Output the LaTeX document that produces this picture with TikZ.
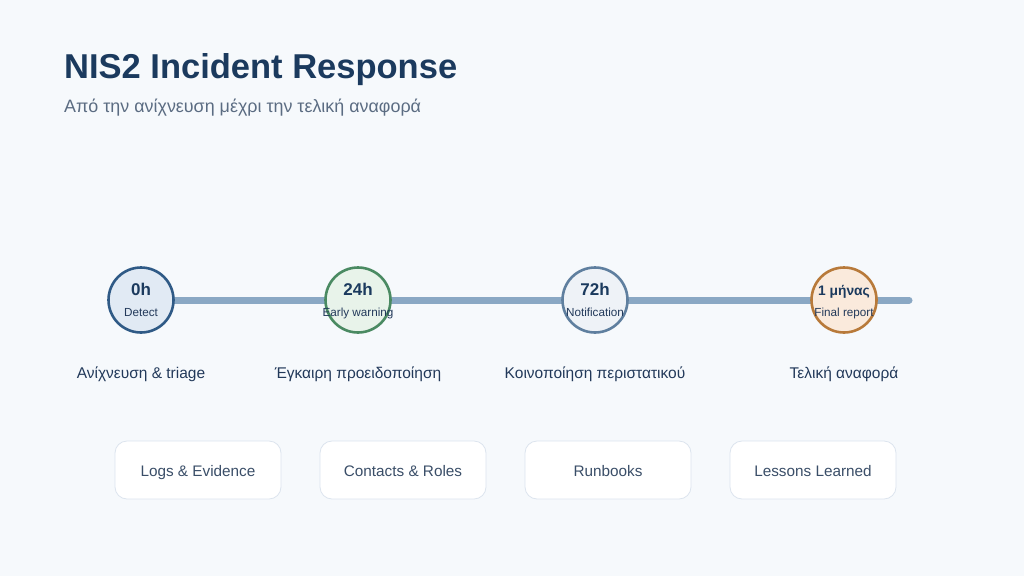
\documentclass[tikz,border=0pt]{standalone}
\usepackage{fontspec}
\setmainfont{Liberation Sans}
\begin{document}
\begin{tikzpicture}[x=1pt,y=-1pt,
  milestone/.style={circle,minimum size=65pt,inner sep=0pt,line width=2.6pt},
  tlabel/.style={font=\fontsize{15.5}{18}\selectfont,text=labtext,anchor=base},
  boxres/.style={draw=boxline,fill=white,rounded corners=12pt,minimum width=166pt,minimum height=58pt,line width=0.8pt,font=\fontsize{15.3}{18}\selectfont,text=boxtext},
  boxtxt/.style={font=\fontsize{15.3}{18}\selectfont,text=boxtext,anchor=base,inner sep=0pt},
  big/.style={font=\bfseries\fontsize{17}{19}\selectfont,text=titlecol,anchor=base},
  small/.style={font=\fontsize{11.7}{14}\selectfont,text=labtext,anchor=base}]
\definecolor{bg}{HTML}{F6F9FC}
\definecolor{titlecol}{HTML}{1B3A5E}
\definecolor{subcol}{HTML}{5B6C82}
\definecolor{linecol}{HTML}{8AA8C4}
\definecolor{labtext}{HTML}{22395A}
\definecolor{boxline}{HTML}{DCE4EE}
\definecolor{boxtext}{HTML}{3A4E68}
\definecolor{fa}{HTML}{E1EAF4}\definecolor{sa}{HTML}{2F5A86}
\definecolor{fb}{HTML}{E8F3EA}\definecolor{sb}{HTML}{4A8A62}
\definecolor{fc}{HTML}{EEF2F7}\definecolor{sc}{HTML}{5F7F9F}
\definecolor{fd}{HTML}{FAEADC}\definecolor{sd}{HTML}{B87A3A}
\fill[bg] (0,0) rectangle (1024,576);
\useasboundingbox (0,0) rectangle (1024,576);
\node[anchor=base west,font=\bfseries\fontsize{34.5}{40}\selectfont,text=titlecol,inner sep=0pt] (title) at (64,78) {NIS2 Incident Response};
\node[anchor=base west,font=\fontsize{17.9}{22}\selectfont,text=subcol,inner sep=0pt] (sub) at (64,112) {Από την ανίχνευση μέχρι την τελική αναφορά};
\coordinate (lend) at (909,300);
\node[milestone] (m1) at (141,300) {};
\node[milestone] (m2) at (358,300) {};
\node[milestone] (m3) at (595,300) {};
\node[milestone] (m4) at (844,300) {};
\draw[linecol,line width=7pt,line cap=round] (m1.center) -- (lend);
\node[milestone,draw=sa,fill=fa] at (m1) {};
\node[milestone,draw=sb,fill=fb] at (m2) {};
\node[milestone,draw=sc,fill=fc] at (m3) {};
\node[milestone,draw=sd,fill=fd] at (m4) {};
\foreach \n/\a/\b/\s in {m1/0h/Detect/17,m2/24h/Early warning/17,m3/72h/Notification/17,m4/1 μήνας/Final report/13.8}{
  \node[big,inner sep=0pt,font=\bfseries\fontsize{\s}{19}\selectfont] (\n t) at ([yshift=5pt]\n.center) {\a};
  \node[small,inner sep=0pt] (\n s) at ([yshift=-16pt]\n.center) {\b};
}
\node[tlabel,inner sep=0pt] (l1) at (141,378) {Ανίχνευση \& triage};
\node[tlabel,inner sep=0pt] (l2) at (358,378) {Έγκαιρη προειδοποίηση};
\node[tlabel,inner sep=0pt] (l3) at (595,378) {Κοινοποίηση περιστατικού};
\node[tlabel,inner sep=0pt] (l4) at (844,378) {Τελική αναφορά};
\foreach \i/\x/\t in {1/198/Logs \& Evidence,2/403/Contacts \& Roles,3/608/Runbooks,4/813/Lessons Learned}{
  \node[boxres] (b\i) at (\x,470) {};
  \node[boxtxt] (b\i t) at ([yshift=-6.5pt]b\i.center) {\t};
}
\end{tikzpicture}
\end{document}
